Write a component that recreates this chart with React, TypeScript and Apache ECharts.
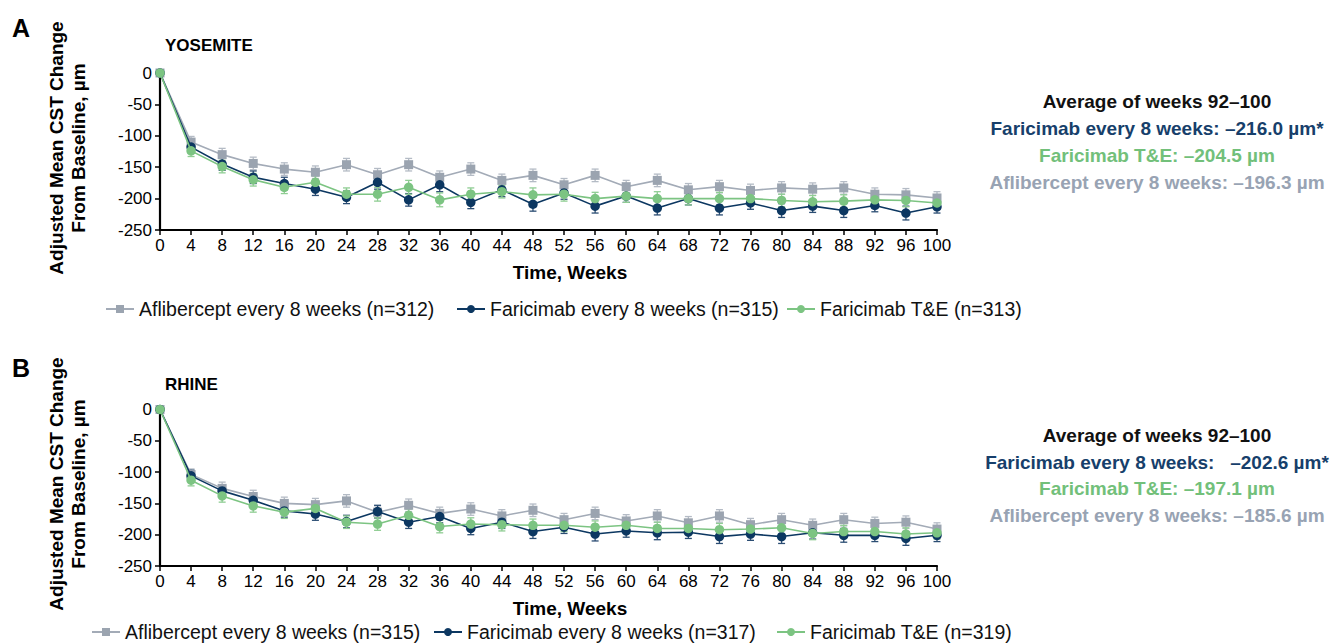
import React, { useEffect, useRef } from "react";
import * as echarts from "echarts";

const weeks = [0, 4, 8, 12, 16, 20, 24, 28, 32, 36, 40, 44, 48, 52, 56, 60, 64, 68, 72, 76, 80, 84, 88, 92, 96, 100];

// Panel A: YOSEMITE
const yoseAflib = [0, -110, -130, -144, -153, -158, -146, -162, -146, -166, -153, -171, -163, -178, -163, -181, -171, -186, -181, -187, -183, -185, -183, -193, -194, -199];
const yoseFariQ8 = [0, -118, -145, -166, -176, -185, -198, -174, -202, -178, -206, -186, -209, -191, -212, -196, -215, -200, -215, -207, -219, -212, -219, -211, -223, -213];
const yoseFariTE = [0, -124, -149, -170, -182, -174, -193, -193, -182, -202, -193, -189, -194, -193, -200, -196, -200, -200, -200, -200, -203, -205, -204, -202, -203, -207];
const yoseAflibErr = [0, 9, 10, 10, 10, 10, 10, 10, 10, 10, 10, 10, 10, 10, 10, 10, 10, 10, 10, 10, 10, 10, 10, 10, 10, 10];
const yoseFariQ8Err = [0, 9, 10, 10, 10, 10, 10, 11, 10, 11, 10, 11, 11, 10, 11, 10, 11, 10, 11, 10, 11, 10, 11, 10, 11, 10];
const yoseFariTEErr = [0, 9, 10, 10, 10, 10, 10, 11, 11, 11, 10, 10, 11, 11, 10, 10, 11, 10, 10, 10, 10, 10, 10, 10, 10, 10];

// Panel B: RHINE
const rhineAflib = [0, -104, -126, -139, -150, -152, -146, -164, -153, -166, -159, -170, -161, -176, -166, -178, -170, -181, -170, -184, -176, -185, -176, -182, -180, -191];
const rhineFariQ8 = [0, -106, -130, -145, -162, -167, -179, -163, -180, -171, -190, -180, -195, -188, -199, -194, -197, -196, -203, -199, -203, -197, -201, -201, -206, -201];
const rhineFariTE = [0, -113, -138, -154, -164, -158, -180, -183, -169, -187, -183, -184, -185, -185, -188, -185, -190, -190, -192, -191, -189, -198, -195, -195, -199, -197];
const rhineAflibErr = [0, 9, 10, 10, 10, 10, 10, 10, 10, 10, 10, 10, 10, 10, 10, 10, 10, 10, 10, 10, 10, 10, 10, 10, 10, 10];
const rhineFariQ8Err = [0, 9, 10, 10, 10, 10, 10, 10, 10, 10, 10, 10, 11, 10, 11, 10, 11, 10, 11, 10, 11, 10, 11, 10, 11, 10];
const rhineFariTEErr = [0, 9, 10, 10, 10, 10, 10, 10, 10, 10, 10, 10, 10, 10, 10, 10, 10, 10, 10, 10, 10, 10, 10, 10, 10, 10];

const yTicks = { min: -250, max: 0, interval: 50 };
const xTicks = { min: 0, max: 100, interval: 4 };

const namesA = ["Aflibercept every 8 weeks (n=312)", "Faricimab every 8 weeks (n=315)", "Faricimab T&E (n=313)"];
const namesB = ["Aflibercept every 8 weeks (n=315)", "Faricimab every 8 weeks (n=317)", "Faricimab T&E (n=319)"];

const avgA = ["Average of weeks 92–100", "Faricimab every 8 weeks: –216.0 µm*", "Faricimab T&E: –204.5 µm", "Aflibercept every 8 weeks: –196.3 µm"];
const avgB = ["Average of weeks 92–100", "Faricimab every 8 weeks:   –202.6 µm*", "Faricimab T&E: –197.1 µm", "Aflibercept every 8 weeks: –185.6 µm"];

const GRAY = "#a3abb7";
const GRAY_M = "#9ba4b0";
const NAVY = "#0c3761";
const GREEN = "#7cc482";
const FONT = "'Liberation Sans', Arial, Helvetica, sans-serif";

function errSeries(idx: number, vals: number[], errs: number[], color: string) {
  return {
    type: "custom",
    xAxisIndex: idx,
    yAxisIndex: idx,
    z: 1,
    silent: true,
    data: weeks.map((w, i) => [w, vals[i] - errs[i], vals[i] + errs[i]]).filter((d, i) => errs[i] > 0),
    renderItem: (params: any, api: any) => {
      const x = api.value(0);
      const lo = api.coord([x, api.value(1)]);
      const hi = api.coord([x, api.value(2)]);
      const w = 3.5;
      const st = { stroke: color, lineWidth: 1.3 };
      return {
        type: "group",
        children: [
          { type: "line", shape: { x1: lo[0], y1: lo[1], x2: hi[0], y2: hi[1] }, style: st },
          { type: "line", shape: { x1: lo[0] - w, y1: lo[1], x2: lo[0] + w, y2: lo[1] }, style: st },
          { type: "line", shape: { x1: hi[0] - w, y1: hi[1], x2: hi[0] + w, y2: hi[1] }, style: st },
        ],
      };
    },
  };
}

function lineSeries(idx: number, name: string, vals: number[], color: string, mColor: string, symbol: string, size: number, z: number) {
  return {
    type: "line",
    name,
    xAxisIndex: idx,
    yAxisIndex: idx,
    z,
    data: weeks.map((w, i) => [w, vals[i]]),
    symbol,
    symbolSize: size,
    showAllSymbol: true,
    lineStyle: { color, width: 1.6 },
    itemStyle: { color: mColor },
  };
}

function xAxis(idx: number) {
  return {
    type: "value",
    gridIndex: idx,
    ...xTicks,
    axisLine: { show: true, onZero: false, lineStyle: { color: "#000", width: 2.2 } },
    axisTick: { show: true, length: 5, lineStyle: { color: "#000", width: 1.5 } },
    axisLabel: { color: "#000", fontSize: 17, fontFamily: FONT, margin: 7 },
    splitLine: { show: false },
  };
}

function yAxis(idx: number) {
  return {
    type: "value",
    gridIndex: idx,
    ...yTicks,
    axisLine: { show: true, onZero: false, lineStyle: { color: "#000", width: 2.2 } },
    axisTick: { show: true, length: 5, lineStyle: { color: "#000", width: 1.5 } },
    axisLabel: { color: "#000", fontSize: 17, fontFamily: FONT, margin: 8 },
    splitLine: { show: false },
  };
}

function txt(x: number, y: number, text: string, size: number, color: string, weight: string, align = "left", extra: any = {}) {
  return {
    type: "text",
    x,
    y,
    ...extra,
    style: { text, fontSize: size, fontWeight: weight, fontFamily: FONT, fill: color, align, verticalAlign: "middle", ...(extra.style || {}) },
  };
}

export default function App() {
  const ref = useRef<HTMLDivElement>(null);
  useEffect(() => {
    if (!ref.current) return;
    const chart = echarts.init(ref.current, null, { renderer: "svg" });
    const legendPos = [
      { name: namesA[0], left: 105, top: 299 },
      { name: namesA[1], left: 456, top: 299 },
      { name: namesA[2], left: 786, top: 299 },
      { name: namesB[0], left: 91, top: 622 },
      { name: namesB[1], left: 433, top: 622 },
      { name: namesB[2], left: 776, top: 622 },
    ];
    const avgColors = ["#111111", "#173f6b", "#72c07a", "#98a3b3"];
    const avgYA = [101, 128, 155, 182];
    const avgYB = [435, 462, 488, 515];
    const option: any = {
      animation: false,
      backgroundColor: "#fff",
      grid: [
        { left: 160, top: 73, width: 777, height: 157 },
        { left: 160, top: 409.5, width: 777, height: 156.5 },
      ],
      xAxis: [xAxis(0), xAxis(1)],
      yAxis: [yAxis(0), yAxis(1)],
      legend: legendPos.map((l) => ({
        left: l.left,
        top: l.top,
        data: [l.name],
        padding: 0,
        itemWidth: 28,
        itemHeight: 10,
        selectedMode: false,
        textStyle: { fontSize: 19.5, fontFamily: FONT, color: "#111" },
      })),
      series: [
        errSeries(0, yoseAflib, yoseAflibErr, "#b4bbc5"),
        errSeries(0, yoseFariQ8, yoseFariQ8Err, "#2b4d73"),
        errSeries(0, yoseFariTE, yoseFariTEErr, "#8fcd93"),
        lineSeries(0, namesA[0], yoseAflib, GRAY, GRAY_M, "rect", 9, 2),
        lineSeries(0, namesA[1], yoseFariQ8, NAVY, NAVY, "circle", 9.5, 3),
        lineSeries(0, namesA[2], yoseFariTE, GREEN, GREEN, "circle", 9.5, 4),
        errSeries(1, rhineAflib, rhineAflibErr, "#b4bbc5"),
        errSeries(1, rhineFariQ8, rhineFariQ8Err, "#2b4d73"),
        errSeries(1, rhineFariTE, rhineFariTEErr, "#8fcd93"),
        lineSeries(1, namesB[0], rhineAflib, GRAY, GRAY_M, "rect", 9, 2),
        lineSeries(1, namesB[1], rhineFariQ8, NAVY, NAVY, "circle", 9.5, 3),
        lineSeries(1, namesB[2], rhineFariTE, GREEN, GREEN, "circle", 9.5, 4),
      ],
      graphic: [
        txt(12, 28, "A", 25, "#000", "bold"),
        txt(12, 368, "B", 25, "#000", "bold"),
        txt(165, 45, "YOSEMITE", 17, "#000", "bold"),
        txt(165, 384, "RHINE", 17, "#000", "bold"),
        txt(570, 272, "Time, Weeks", 19, "#000", "bold", "center"),
        txt(570, 608, "Time, Weeks", 19, "#000", "bold", "center"),
        txt(67, 148, "Adjusted Mean CST Change\nFrom Baseline, µm", 19, "#000", "bold", "center", { rotation: Math.PI / 2, style: { lineHeight: 22 } }),
        txt(67, 484, "Adjusted Mean CST Change\nFrom Baseline, µm", 19, "#000", "bold", "center", { rotation: Math.PI / 2, style: { lineHeight: 22 } }),
        ...avgA.map((t, i) => txt(1157, avgYA[i], t, 19, avgColors[i], "bold", "center")),
        ...avgB.map((t, i) => txt(1157, avgYB[i], t, 19, avgColors[i], "bold", "center")),
      ],
    };
    chart.setOption(option);
    return () => chart.dispose();
  }, []);
  return <div ref={ref} style={{ position: "absolute", left: 0, top: 0, width: 1333, height: 644 }} />;
}
